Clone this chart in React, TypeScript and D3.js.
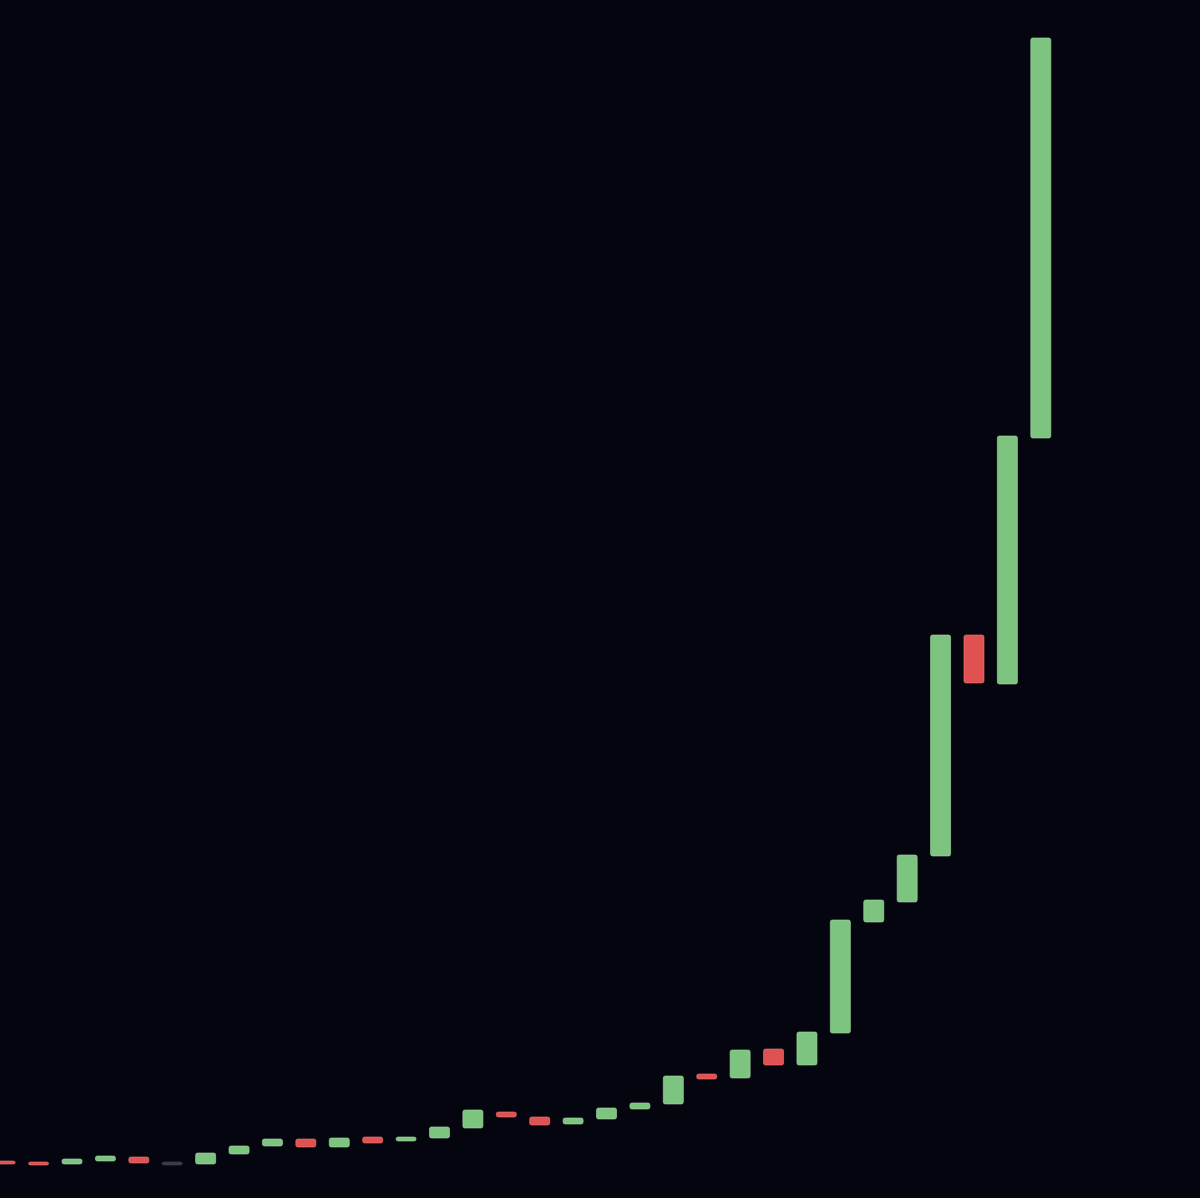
import { useEffect, useRef } from "react";
import * as d3 from "d3";

// candle index labels
const periods = d3.range(1, 33).map((d) => String(d));
// open / close values (arbitrary price units)
const opens = [
  9, 8, 6, 9, 13, 8, 6, 16, 24, 31, 23, 33, 29, 32, 42, 58, 53, 46, 51, 61, 66,
  96, 92, 121, 105, 137, 248, 268, 314, 535, 486, 732,
];
const closes = [
  7, 6, 11, 14, 7, 8, 17, 24, 31, 23, 32, 27, 33, 43, 60, 53, 45, 52, 62, 67,
  94, 91, 120, 105, 138, 250, 270, 315, 535, 487, 734, 1132,
];

const WIDTH = 1200;
const HEIGHT = 1198;

function App() {
  const ref = useRef<SVGSVGElement>(null);

  useEffect(() => {
    document.body.style.margin = "0";
    document.body.style.background = "#05050f";
    if (!ref.current) return;

    const svg = d3.select(ref.current);
    svg.selectAll("*").remove();

    const data = periods.map((p, i) => ({
      period: p,
      open: opens[i],
      close: closes[i],
    }));

    const x = d3
      .scaleBand<string>()
      .domain(periods)
      .range([-11.5, 1057.5])
      .paddingInner(0.4)
      .paddingOuter(0.2);

    const y = d3.scaleLinear().domain([0, 1132]).range([1170, 38]);

    svg
      .append("rect")
      .attr("width", WIDTH)
      .attr("height", HEIGHT)
      .attr("fill", "#05050f");

    const fill = (d: any) =>
      d.close > d.open ? "#7cc47f" : d.close < d.open ? "#e05252" : "#3a3a44";
    const edge = (d: any) =>
      d.close > d.open ? "#a8dcaa" : d.close < d.open ? "#f07a7a" : "#4a4a55";

    svg
      .append("g")
      .selectAll("rect")
      .data(data)
      .enter()
      .append("rect")
      .attr("x", (d) => x(d.period)!)
      .attr("width", x.bandwidth())
      .attr("y", (d) => y(Math.max(d.open, d.close)))
      .attr("height", (d) =>
        Math.max(3, Math.abs(y(d.open) - y(d.close)))
      )
      .attr("rx", 2)
      .attr("fill", fill)
      .attr("stroke", edge)
      .attr("stroke-width", 1)
      .attr("stroke-opacity", 0.6);
  }, []);

  return (
    <svg
      ref={ref}
      width={WIDTH}
      height={HEIGHT}
      style={{ display: "block" }}
    />
  );
}

export default App;
